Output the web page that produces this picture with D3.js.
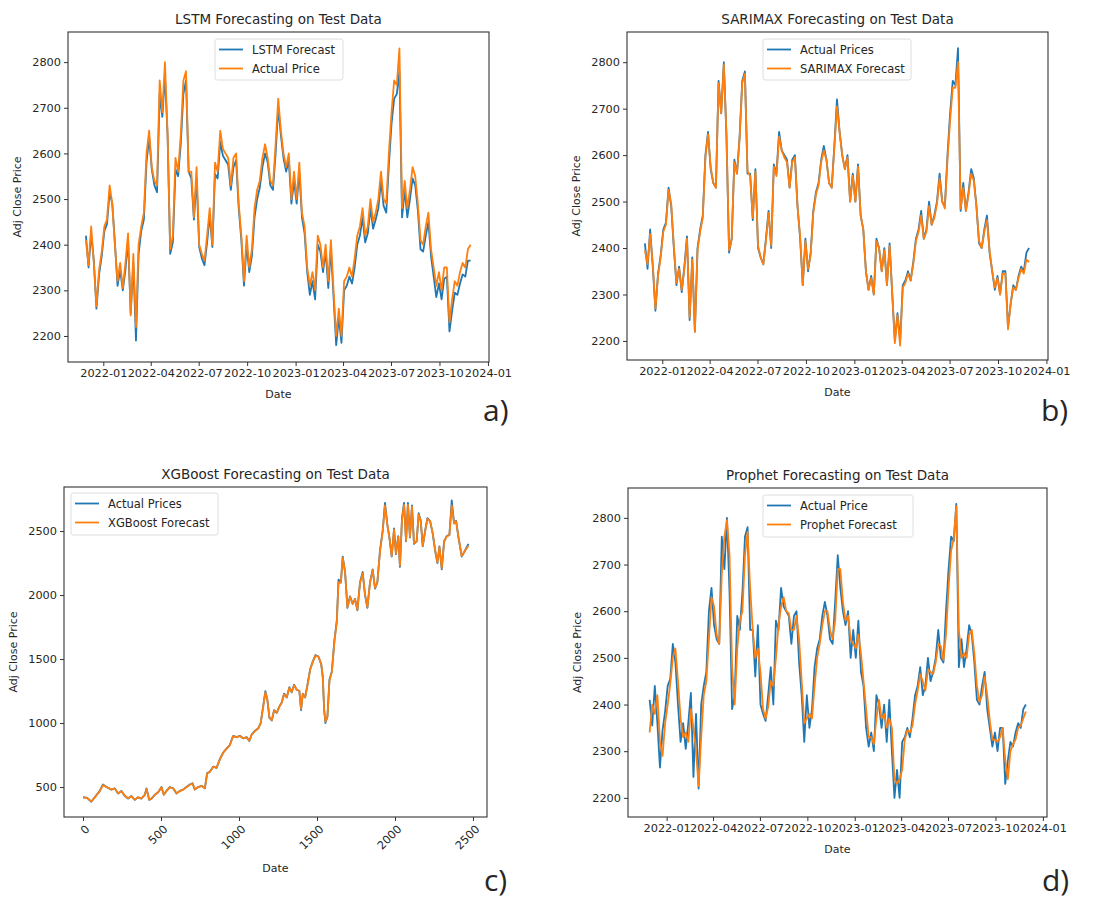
<!DOCTYPE html>
<html>
<head>
<meta charset="utf-8">
<script src="https://cdn.jsdelivr.net/npm/d3@7"></script>
<style>
  body { margin: 0; background: #fff; }
  svg { display: block; }
  text { font-family: "DejaVu Sans", sans-serif; fill: #262626; }
</style>
</head>
<body>
<svg id="chart" width="1100" height="915"></svg>
<script>
// Test period: one observation every 5 calendar days from the start date
const startDate = "2021-11-29";
const stepDays = 5;

const actualPrice = [
  2410, 2355, 2440, 2360, 2265, 2345, 2385, 2440, 2455, 2530, 2490, 2400, 2320, 2360, 2305, 2360,
  2425, 2245, 2380, 2220, 2400, 2440, 2470, 2600, 2650, 2570, 2540, 2530, 2760, 2690, 2800, 2640,
  2390, 2420, 2590, 2560, 2640, 2760, 2780, 2560, 2560, 2460, 2570, 2400, 2380, 2365, 2420, 2480,
  2400, 2580, 2560, 2650, 2610, 2600, 2590, 2530, 2590, 2600, 2490, 2420, 2320, 2420, 2350, 2390,
  2480, 2520, 2540, 2590, 2620, 2590, 2540, 2530, 2620, 2720, 2650, 2600, 2570, 2600, 2500, 2560,
  2500, 2580, 2470, 2440, 2350, 2310, 2340, 2300, 2420, 2400, 2350, 2400, 2320, 2410, 2300, 2200,
  2260, 2200, 2320, 2330, 2350, 2330, 2370, 2420, 2440, 2480, 2420, 2440, 2500, 2450, 2470, 2500,
  2560, 2500, 2490, 2600, 2690, 2760, 2750, 2830, 2480, 2540, 2480, 2520, 2570, 2550, 2490, 2410,
  2400, 2440, 2470, 2390, 2350, 2310, 2340, 2300, 2350, 2350, 2230, 2280, 2320, 2310, 2340, 2360,
  2350, 2390, 2400
];

const lstmForecast = [
  2420, 2350, 2425, 2365, 2260, 2335, 2375, 2430, 2445, 2515, 2490, 2405, 2310, 2345, 2300, 2345,
  2410, 2250, 2360, 2190, 2380, 2430, 2455, 2580, 2635, 2565, 2530, 2515, 2730, 2680, 2770, 2640,
  2380, 2405, 2565, 2550, 2620, 2730, 2760, 2560, 2545, 2455, 2545, 2395, 2370, 2355, 2405, 2465,
  2395, 2555, 2545, 2625, 2595, 2585, 2575, 2520, 2570, 2585, 2480, 2410, 2310, 2400, 2340, 2375,
  2460, 2500, 2525, 2570, 2600, 2580, 2530, 2520, 2600, 2700, 2640, 2590, 2560, 2585, 2490, 2540,
  2490, 2560, 2460, 2425, 2340, 2290, 2320, 2280, 2400, 2385, 2340, 2385, 2305, 2390, 2285, 2180,
  2240, 2185, 2300, 2310, 2330, 2315, 2350, 2400, 2420, 2460, 2405, 2425, 2480, 2435, 2455, 2480,
  2540, 2485, 2470, 2575, 2665, 2720, 2730, 2780, 2460, 2520, 2460, 2500, 2545, 2530, 2475, 2390,
  2385, 2420, 2450, 2375, 2330, 2285, 2315, 2280, 2325, 2330, 2210, 2255, 2295, 2290, 2315, 2335,
  2330, 2365, 2365
];

const sarimaxForecast = [
  2395, 2365, 2430, 2365, 2270, 2340, 2380, 2435, 2450, 2525, 2495, 2405, 2325, 2355, 2310, 2355,
  2420, 2250, 2375, 2220, 2395, 2435, 2465, 2595, 2645, 2575, 2540, 2530, 2755, 2690, 2795, 2645,
  2395, 2420, 2585, 2560, 2635, 2755, 2775, 2565, 2555, 2465, 2565, 2405, 2380, 2365, 2415, 2475,
  2405, 2575, 2555, 2640, 2610, 2595, 2585, 2530, 2585, 2595, 2490, 2425, 2320, 2415, 2355, 2385,
  2475, 2515, 2535, 2585, 2610, 2590, 2540, 2530, 2615, 2705, 2650, 2600, 2570, 2595, 2500, 2555,
  2500, 2575, 2470, 2440, 2350, 2310, 2335, 2300, 2415, 2400, 2350, 2395, 2320, 2405, 2305, 2195,
  2255, 2190, 2315, 2325, 2345, 2330, 2365, 2415, 2435, 2470, 2420, 2435, 2490, 2450, 2465, 2495,
  2550, 2500, 2485, 2590, 2675, 2745, 2745, 2800, 2485, 2530, 2480, 2515, 2560, 2545, 2490, 2415,
  2400, 2435, 2460, 2395, 2350, 2315, 2335, 2300, 2345, 2345, 2225, 2280, 2315, 2310, 2335, 2355,
  2345, 2375, 2370
];

const prophetForecast = [
  2340, 2400, 2380, 2420, 2320, 2290, 2360, 2400, 2445, 2500, 2520, 2450, 2370, 2330, 2340, 2320,
  2390, 2350, 2300, 2225, 2330, 2420, 2450, 2540, 2630, 2610, 2550, 2530, 2680, 2760, 2795, 2720,
  2480, 2400, 2520, 2580, 2600, 2720, 2770, 2650, 2560, 2500, 2520, 2470, 2390, 2370, 2395, 2450,
  2440, 2500, 2570, 2610, 2630, 2600, 2595, 2560, 2560, 2590, 2540, 2450, 2360, 2370, 2380, 2370,
  2440, 2500, 2530, 2570, 2600, 2600, 2560, 2540, 2580, 2690, 2690, 2620, 2580, 2590, 2540, 2530,
  2520, 2550, 2510, 2450, 2390, 2330, 2330, 2315, 2370, 2410, 2370, 2380, 2350, 2370, 2350, 2240,
  2230, 2240, 2260, 2325, 2345, 2340, 2355, 2400, 2430, 2465, 2450, 2430, 2475, 2470, 2465, 2490,
  2530, 2525, 2495, 2550, 2650, 2730, 2755, 2825, 2560, 2500, 2510, 2500, 2550, 2560, 2510, 2440,
  2405, 2420, 2460, 2420, 2365, 2325, 2325, 2320, 2330, 2350, 2280, 2240, 2300, 2315, 2325, 2350,
  2355, 2370, 2385
];

// XGBoost panel: full history plotted against the row index
const xgbIndex = [
  0, 26, 53, 75, 107, 128, 150, 182, 203, 225, 246, 268, 289, 310, 332, 353, 374, 396, 407, 424,
  439, 460, 482, 503, 518, 535, 556, 578, 599, 621, 642, 663, 685, 702, 717, 738, 760, 781, 796, 813,
  835, 856, 878, 899, 920, 942, 953, 963, 985, 1006, 1028, 1049, 1066, 1081, 1103, 1124, 1139, 1156, 1169, 1182,
  1195, 1210, 1225, 1242, 1259, 1274, 1289, 1306, 1323, 1338, 1353, 1370, 1387, 1398, 1409, 1424, 1439, 1456, 1473, 1490,
  1509, 1527, 1537, 1546, 1554, 1567, 1580, 1595, 1612, 1627, 1638, 1653, 1665, 1680, 1695, 1712, 1729, 1744, 1759, 1776,
  1793, 1808, 1823, 1840, 1857, 1872, 1887, 1904, 1921, 1936, 1951, 1964, 1979, 1994, 2006, 2021, 2032, 2045, 2058, 2071,
  2083, 2096, 2109, 2122, 2139, 2152, 2165, 2178, 2193, 2208, 2225, 2242, 2257, 2272, 2285, 2300, 2315, 2332, 2349, 2364,
  2379, 2392, 2407, 2428, 2450, 2471
];

const xgbActual = [
  422, 415, 385, 420, 470, 520, 500, 480, 490, 450, 470, 430, 410, 430, 400, 420, 410, 440, 490, 400,
  410, 440, 460, 500, 440, 470, 500, 490, 450, 470, 480, 500, 520, 530, 480, 500, 510, 490, 610, 620,
  660, 650, 720, 770, 800, 830, 870, 900, 890, 900, 880, 890, 860, 910, 940, 960, 1000, 1140, 1250, 1180,
  1040, 1020, 1100, 1080, 1130, 1160, 1230, 1200, 1280, 1240, 1300, 1260, 1250, 1100, 1230, 1200, 1300, 1420, 1480, 1530,
  1520, 1460, 1360, 1100, 1000, 1050, 1340, 1400, 1650, 1800, 2120, 2100, 2300, 2180, 1900, 1990, 1930, 1970, 1880, 2100,
  2180, 2000, 1900, 2100, 2200, 2050, 2100, 2350, 2500, 2720, 2550, 2450, 2300, 2520, 2320, 2460, 2220, 2600, 2720, 2420,
  2720, 2450, 2700, 2400, 2420, 2640, 2580, 2380, 2500, 2600, 2580, 2480, 2350, 2250, 2380, 2200, 2420, 2460, 2470, 2740,
  2560, 2580, 2450, 2300, 2350, 2400
];

const xgbForecast = [
  418, 415, 388, 418, 468, 515, 500, 482, 488, 452, 468, 432, 412, 428, 402, 420, 412, 438, 485, 402,
  410, 438, 460, 498, 442, 470, 498, 490, 452, 468, 480, 498, 518, 528, 482, 500, 508, 492, 605, 618,
  658, 652, 718, 768, 800, 828, 868, 898, 890, 898, 882, 888, 862, 908, 938, 958, 1000, 1135, 1240, 1180,
  1045, 1022, 1098, 1082, 1128, 1160, 1225, 1202, 1275, 1242, 1295, 1262, 1250, 1110, 1225, 1202, 1295, 1415, 1478, 1525,
  1518, 1462, 1365, 1110, 1010, 1052, 1330, 1398, 1640, 1790, 2100, 2095, 2290, 2182, 1905, 1985, 1932, 1968, 1885, 2095,
  2170, 2005, 1905, 2095, 2195, 2055, 2100, 2340, 2495, 2700, 2550, 2452, 2305, 2510, 2325, 2455, 2230, 2590, 2705, 2425,
  2705, 2455, 2690, 2405, 2420, 2630, 2578, 2385, 2495, 2595, 2578, 2482, 2355, 2255, 2375, 2210, 2415, 2458, 2470, 2700,
  2560, 2575, 2452, 2305, 2348, 2385
];

const dateTicks = ["2022-01", "2022-04", "2022-07", "2022-10", "2023-01", "2023-04", "2023-07", "2023-10", "2024-01"];
const priceTicks = [2200, 2300, 2400, 2500, 2600, 2700, 2800];
const xgbXTicks = [0, 500, 1000, 1500, 2000, 2500];
const xgbYTicks = [500, 1000, 1500, 2000, 2500];

const BLUE = "#1f77b4", ORANGE = "#ff7f0e";
const TICK_FONT = 11.3, LABEL_FONT = 11, LEGEND_FONT = 11.5, TITLE_FONT = 13.5;

const parseDay = d3.timeParse("%Y-%m-%d");
const parseMonth = d3.timeParse("%Y-%m");
const dates = actualPrice.map((_, i) => d3.timeDay.offset(parseDay(startDate), i * stepDays));
const dateTickValues = dateTicks.map(parseMonth);

const svg = d3.select("#chart");

const panels = [
  {
    box: { left: 68, right: 489, top: 32, bottom: 362 },
    x: d3.scaleTime().domain([parseDay("2021-10-26"), parseDay("2024-01-03")]),
    y: d3.scaleLinear().domain([2143, 2866]),
    xs: dates,
    series: [
      { label: "LSTM Forecast", color: BLUE, values: lstmForecast },
      { label: "Actual Price", color: ORANGE, values: actualPrice }
    ],
    title: "LSTM Forecasting on Test Data",
    legend: { x: 215, y: 39, w: 128, h: 41 },
    tag: "a)", tagPos: [483, 421],
    dateAxis: true
  },
  {
    box: { left: 627, right: 1048, top: 32, bottom: 360 },
    x: d3.scaleTime().domain([parseDay("2021-10-26"), parseDay("2024-01-04")]),
    y: d3.scaleLinear().domain([2159, 2865]),
    xs: dates,
    series: [
      { label: "Actual Prices", color: BLUE, values: actualPrice },
      { label: "SARIMAX Forecast", color: ORANGE, values: sarimaxForecast }
    ],
    title: "SARIMAX Forecasting on Test Data",
    legend: { x: 763, y: 39, w: 148, h: 41 },
    tag: "b)", tagPos: [1041, 421],
    dateAxis: true
  },
  {
    box: { left: 64, right: 487, top: 487, bottom: 817 },
    x: d3.scaleLinear().domain([-122, 2590]),
    y: d3.scaleLinear().domain([266, 2844]),
    xs: xgbIndex,
    series: [
      { label: "Actual Prices", color: BLUE, values: xgbActual },
      { label: "XGBoost Forecast", color: ORANGE, values: xgbForecast }
    ],
    title: "XGBoost Forecasting on Test Data",
    legend: { x: 71, y: 493, w: 147, h: 42 },
    tag: "c)", tagPos: [484, 891],
    dateAxis: false
  },
  {
    box: { left: 628, right: 1047, top: 488, bottom: 817 },
    x: d3.scaleTime().domain([parseDay("2021-10-18"), parseDay("2024-01-09")]),
    y: d3.scaleLinear().domain([2159, 2864]),
    xs: dates,
    series: [
      { label: "Actual Price", color: BLUE, values: actualPrice },
      { label: "Prophet Forecast", color: ORANGE, values: prophetForecast }
    ],
    title: "Prophet Forecasting on Test Data",
    legend: { x: 763, y: 495, w: 150, h: 42 },
    tag: "d)", tagPos: [1042, 891],
    dateAxis: true
  }
];

panels.forEach(p => {
  const b = p.box;
  p.x.range([b.left, b.right]);
  p.y.range([b.bottom, b.top]);
  const g = svg.append("g");

  // data lines, clipped to the axes area
  const clipId = "clip-" + p.tag.replace(")", "");
  g.append("clipPath").attr("id", clipId)
    .append("rect").attr("x", b.left).attr("y", b.top)
    .attr("width", b.right - b.left).attr("height", b.bottom - b.top);

  const lines = g.append("g").attr("clip-path", `url(#${clipId})`);
  p.series.forEach(s => {
    const line = d3.line()
      .x((d, i) => p.x(p.xs[i]))
      .y(d => p.y(d));
    lines.append("path")
      .datum(s.values)
      .attr("d", line)
      .attr("fill", "none")
      .attr("stroke", s.color)
      .attr("stroke-width", 1.8)
      .attr("stroke-linejoin", "round");
  });

  // axes
  let xAxis;
  if (p.dateAxis) {
    xAxis = d3.axisBottom(p.x).tickValues(dateTickValues).tickFormat(d3.timeFormat("%Y-%m"));
  } else {
    xAxis = d3.axisBottom(p.x).tickValues(xgbXTicks).tickFormat(d3.format("d"));
  }
  xAxis.tickSize(4).tickPadding(3);
  const gx = g.append("g").attr("transform", `translate(0,${b.bottom})`).call(xAxis);

  const yAxis = d3.axisLeft(p.y)
    .tickValues(p.dateAxis ? priceTicks : xgbYTicks)
    .tickFormat(d3.format("d"))
    .tickSize(4).tickPadding(3);
  const gy = g.append("g").attr("transform", `translate(${b.left},0)`).call(yAxis);

  [gx, gy].forEach(ax => {
    ax.select(".domain").remove();
    ax.selectAll(".tick line").attr("stroke", "#333").attr("stroke-width", 1);
    ax.selectAll(".tick text").attr("font-size", TICK_FONT).attr("fill", "#262626")
      .style("font-family", "'DejaVu Sans', sans-serif");
  });

  if (!p.dateAxis) {
    gx.selectAll(".tick text")
      .attr("text-anchor", "end")
      .attr("dy", "0.35em")
      .attr("transform", "translate(4,10) rotate(-45)")
      .attr("y", 0);
  }

  // frame
  g.append("rect")
    .attr("x", b.left).attr("y", b.top)
    .attr("width", b.right - b.left).attr("height", b.bottom - b.top)
    .attr("fill", "none").attr("stroke", "#333").attr("stroke-width", 1.1);

  const cx = (b.left + b.right) / 2;
  const cy = (b.top + b.bottom) / 2;

  // title and axis labels
  g.append("text").attr("x", cx).attr("y", b.top - 8)
    .attr("text-anchor", "middle").attr("font-size", TITLE_FONT).text(p.title);
  g.append("text").attr("x", cx).attr("y", b.bottom + (p.dateAxis ? 36 : 55))
    .attr("text-anchor", "middle").attr("font-size", LABEL_FONT).text("Date");
  g.append("text")
    .attr("transform", `translate(${b.left - 47},${cy}) rotate(-90)`)
    .attr("text-anchor", "middle").attr("font-size", LABEL_FONT).text("Adj Close Price");

  // legend
  const L = p.legend;
  const lg = g.append("g");
  lg.append("rect").attr("x", L.x).attr("y", L.y).attr("width", L.w).attr("height", L.h)
    .attr("rx", 2.5).attr("fill", "#fff").attr("fill-opacity", 0.8)
    .attr("stroke", "#d6d6d6").attr("stroke-width", 0.8);
  p.series.forEach((s, i) => {
    const ry = L.y + 10.5 + i * 19;
    lg.append("line").attr("x1", L.x + 4).attr("x2", L.x + 28).attr("y1", ry).attr("y2", ry)
      .attr("stroke", s.color).attr("stroke-width", 1.8);
    lg.append("text").attr("x", L.x + 37).attr("y", ry).attr("dy", "0.35em")
      .attr("font-size", LEGEND_FONT).text(s.label);
  });

  // panel tag
  svg.append("text").attr("x", p.tagPos[0]).attr("y", p.tagPos[1])
    .style("font-family", "'Open Sans', 'Noto Sans', sans-serif")
    .attr("font-size", 30).attr("fill", "#111").text(p.tag);
});
</script>
</body>
</html>
